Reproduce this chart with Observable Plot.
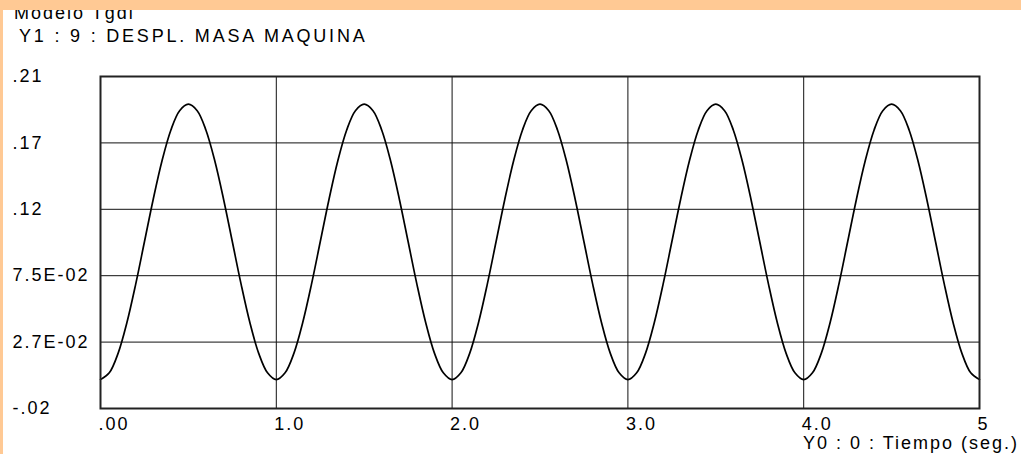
<!DOCTYPE html>
<html><head><meta charset="utf-8">
<script src="https://cdn.jsdelivr.net/npm/d3@7"></script>
<script src="https://cdn.jsdelivr.net/npm/@observablehq/plot@0.6"></script>
<style>
body{margin:0;background:#fff;}
#wrap{position:relative;width:1021px;height:454px;overflow:hidden;background:#fff;font-family:"Liberation Sans",Arial,sans-serif;font-size:18px;color:#000;}
#chart{position:absolute;left:0;top:0;}
.t{position:absolute;line-height:20px;white-space:nowrap;}
#t1{left:14px;top:3px;letter-spacing:2px;}
#t2{left:19px;top:26px;letter-spacing:2.8px;}
#xl{right:2px;top:433px;letter-spacing:2px;}
#bt{position:absolute;left:0;top:0;width:1021px;height:10px;background:#FFC994;}
#bl{position:absolute;left:0;top:0;width:3px;height:454px;background:#FFC994;}
</style></head>
<body>
<div id="wrap">
  <div id="chart"></div>
  <div class="t" id="t1">Modelo Tgdl</div>
  <div class="t" id="t2">Y1 : 9 : DESPL. MASA MAQUINA</div>
  <div class="t" id="xl">Y0 : 0 : Tiempo (seg.)</div>
  <div id="bt"></div>
  <div id="bl"></div>
</div>
<script>
// x tick values and labels
const xTicks = [0, 1, 2, 3, 4, 5];
const xLabels = [".00", "1.0", "2.0", "3.0", "4.0", "5"];
// y tick values and labels (as printed)
const yTicks = [-0.02, 0.026, 0.072, 0.118, 0.164, 0.21];
const yLabels = ["-.02", "2.7E-02", "7.5E-02", ".12", ".17", ".21"];

// time samples (s)
const tiempo = d3.range(0, 101).map(i => i * 0.05);
// displacement of machine mass
const despl = [
  0.0000, 0.0047, 0.0182, 0.0394, 0.0660, 0.0955, 0.1250, 0.1516, 0.1728, 0.1863,
  0.1908, 0.1863, 0.1728, 0.1516, 0.1250, 0.0955, 0.0660, 0.0394, 0.0182, 0.0047,
  0.0000, 0.0047, 0.0182, 0.0394, 0.0660, 0.0955, 0.1250, 0.1516, 0.1728, 0.1863,
  0.1908, 0.1863, 0.1728, 0.1516, 0.1250, 0.0955, 0.0660, 0.0394, 0.0182, 0.0047,
  0.0000, 0.0047, 0.0182, 0.0394, 0.0660, 0.0955, 0.1250, 0.1516, 0.1728, 0.1863,
  0.1908, 0.1863, 0.1728, 0.1516, 0.1250, 0.0955, 0.0660, 0.0394, 0.0182, 0.0047,
  0.0000, 0.0047, 0.0182, 0.0394, 0.0660, 0.0955, 0.1250, 0.1516, 0.1728, 0.1863,
  0.1908, 0.1863, 0.1728, 0.1516, 0.1250, 0.0955, 0.0660, 0.0394, 0.0182, 0.0047,
  0.0000, 0.0047, 0.0182, 0.0394, 0.0660, 0.0955, 0.1250, 0.1516, 0.1728, 0.1863,
  0.1908, 0.1863, 0.1728, 0.1516, 0.1250, 0.0955, 0.0660, 0.0394, 0.0182, 0.0047,
  0.0000
];
const data = tiempo.map((t, i) => ({t, y: despl[i]}));

const chart = Plot.plot({
  width: 1021,
  height: 454,
  marginLeft: 100,
  marginRight: 42,
  marginTop: 76,
  marginBottom: 46,
  x: {domain: [0, 5]},
  y: {domain: [-0.02, 0.21]},
  style: {fontFamily: "'Liberation Sans', Arial, sans-serif", fontSize: "18px", letterSpacing: "2px", color: "#000", background: "white"},
  marks: [
    Plot.gridX(xTicks, {stroke: "#111", strokeOpacity: 1, strokeWidth: 1}),
    Plot.gridY(yTicks, {stroke: "#111", strokeOpacity: 1, strokeWidth: 1}),
    Plot.line(data, {x: "t", y: "y", stroke: "#000", strokeWidth: 1.7, curve: "catmull-rom"}),
    Plot.frame({stroke: "#222", strokeWidth: 2}),
    Plot.axisX(xTicks, {tickSize: 0, tickPadding: 9, textAnchor: "start", dx: -2, tickFormat: d => xLabels[xTicks.indexOf(d)], label: null}),
    Plot.axisY(yTicks, {tickSize: 0, tickPadding: 0, textAnchor: "start", dx: -88, tickFormat: d => yLabels[yTicks.indexOf(d)], label: null})
  ]
});
document.getElementById("chart").appendChild(chart);
</script>
</body></html>
